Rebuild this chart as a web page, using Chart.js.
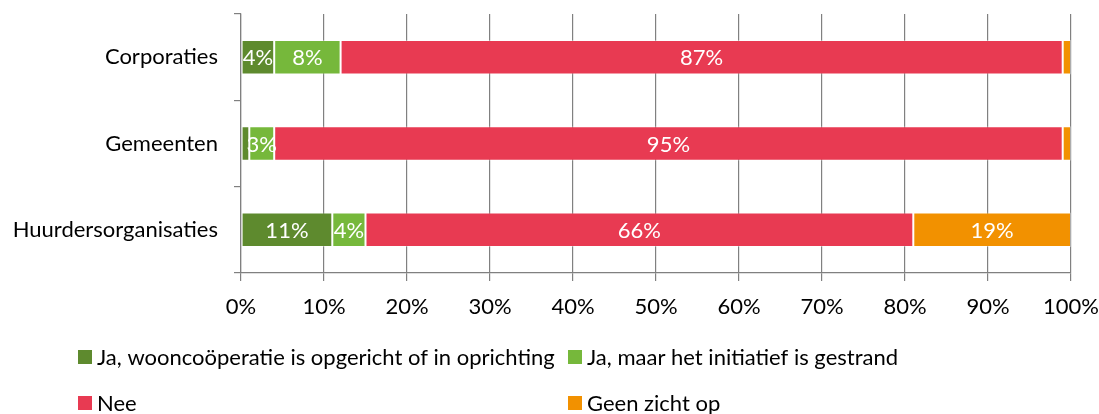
<!DOCTYPE html>
<html>
<head>
<meta charset="utf-8">
<script src="https://cdn.jsdelivr.net/npm/chart.js@4/dist/chart.umd.min.js"></script>
<style>
  html, body { margin: 0; padding: 0; background: #fff; }
  #wrap { width: 1099px; height: 414px; }
</style>
</head>
<body>
<div id="wrap"><canvas id="chart" width="1099" height="414"></canvas></div>
<script>
var categories = ['Corporaties', 'Gemeenten', 'Huurdersorganisaties'];
var seriesNames = [
    'Ja, wooncoöperatie is opgericht of in oprichting',
    'Ja, maar het initiatief is gestrand',
    'Nee',
    'Geen zicht op'
];
var opgericht = [4, 1, 11];
var gestrand = [8, 3, 4];
var nee = [87, 95, 66];
var geenZicht = [1, 1, 19];
var tickLabels = ['0%', '10%', '20%', '30%', '40%', '50%', '60%', '70%', '80%', '90%', '100%'];

var colors = ['#5E8A2E', '#76B83B', '#E83A52', '#F29100'];
var font = 'Lato, Calibri, "Liberation Sans", sans-serif';
var fontSize = 22;

// white percentage text in the middle of each segment, small ones are left out
var segmentLabels = {
    id: 'segmentLabels',
    afterDatasetsDraw: function(chart) {
        var ctx = chart.ctx;
        ctx.save();
        ctx.font = fontSize + 'px ' + font;
        ctx.fillStyle = '#ffffff';
        ctx.textAlign = 'center';
        ctx.textBaseline = 'middle';
        chart.data.datasets.forEach(function(ds, i) {
            var meta = chart.getDatasetMeta(i);
            meta.data.forEach(function(bar, j) {
                var v = ds.data[j];
                if (v < 2) return;
                var p = bar.getProps(['x', 'y', 'base'], true);
                ctx.fillText(v + '%', (p.x + p.base) / 2, p.y + 1);
            });
        });
        ctx.restore();
    }
};

// legend laid out in two columns below the axis
var gridLegend = {
    id: 'gridLegend',
    afterDraw: function(chart) {
        var ctx = chart.ctx;
        var cols = [78, 568];
        var rows = [357, 403];
        ctx.save();
        ctx.font = fontSize + 'px ' + font;
        ctx.textBaseline = 'middle';
        ctx.textAlign = 'left';
        chart.data.datasets.forEach(function(ds, i) {
            var x = cols[i % 2];
            var y = rows[Math.floor(i / 2)];
            ctx.fillStyle = ds.backgroundColor;
            ctx.fillRect(x, y - 7, 14, 14);
            ctx.fillStyle = '#000000';
            ctx.fillText(ds.label, x + 19, y + 1);
        });
        ctx.restore();
    }
};

var values = [opgericht, gestrand, nee, geenZicht];
var datasets = values.map(function(arr, i) {
    return {
        label: seriesNames[i],
        data: arr,
        backgroundColor: colors[i],
        borderColor: 'rgba(255,255,255,0.35)',
        borderWidth: 1,
        borderSkipped: false,
        categoryPercentage: 1,
        barPercentage: 0.4
    };
});

const ctx = document.getElementById('chart').getContext('2d');
new Chart(ctx, {
    type: 'bar',
    data: { labels: categories, datasets: datasets },
    options: {
        indexAxis: 'y',
        responsive: false,
        animation: false,
        layout: { padding: { top: 14, right: 28, left: 0, bottom: 0 } },
        plugins: {
            legend: { display: false },
            tooltip: { enabled: false }
        },
        scales: {
            x: {
                stacked: true,
                min: 0,
                max: 100,
                ticks: {
                    stepSize: 10,
                    color: '#000',
                    padding: 13,
                    maxRotation: 0,
                    font: { family: font, size: fontSize },
                    callback: function(v, i) { return tickLabels[i]; }
                },
                grid: { color: '#808080', lineWidth: 1.2, tickLength: 8 },
                border: { color: '#808080', width: 1.2 },
                afterFit: function(scale) {
                    scale.height = 141;
                    scale.paddingLeft = 0;
                    scale.paddingRight = 0;
                }
            },
            y: {
                stacked: true,
                ticks: {
                    color: '#000',
                    padding: 16,
                    font: { family: font, size: fontSize }
                },
                grid: { drawOnChartArea: false, color: '#808080', lineWidth: 1.2, tickLength: 7 },
                border: { color: '#808080', width: 1.2 },
                afterFit: function(scale) {
                    scale.width = 241;
                    scale.paddingTop = 0;
                    scale.paddingBottom = 0;
                }
            }
        }
    },
    plugins: [segmentLabels, gridLegend]
});
</script>
</body>
</html>
